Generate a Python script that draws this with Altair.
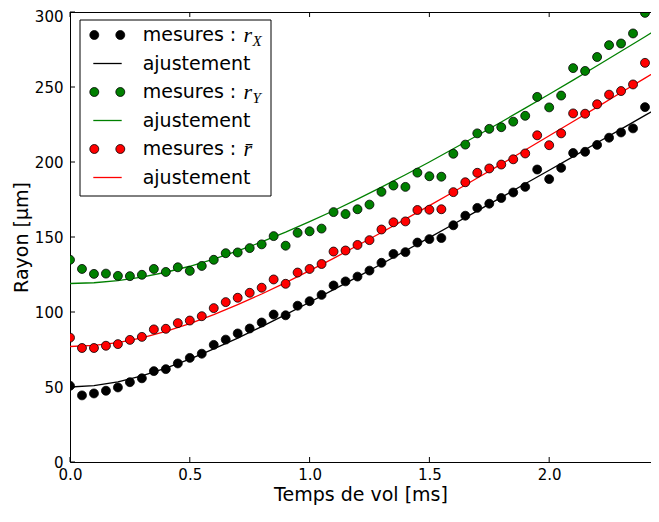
import altair as alt
import pandas as pd

# ---------------- data ----------------
t_ms = [0.00, 0.05, 0.10, 0.15, 0.20, 0.25, 0.30, 0.35, 0.40, 0.45,
        0.50, 0.55, 0.60, 0.65, 0.70, 0.75, 0.80, 0.85, 0.90, 0.95,
        1.00, 1.05, 1.10, 1.15, 1.20, 1.25, 1.30, 1.35, 1.40, 1.45,
        1.50, 1.55, 1.60, 1.65, 1.70, 1.75, 1.80, 1.85, 1.90, 1.95,
        2.00, 2.05, 2.10, 2.15, 2.20, 2.25, 2.30, 2.35, 2.40]

r_x = [50.8, 44.4, 45.7, 47.5, 49.7, 53.2, 55.8, 60.6, 61.9, 65.7,
       69.4, 72.2, 78.1, 81.6, 85.7, 89.0, 93.0, 98.3, 97.8, 104.2,
       107.2, 111.4, 117.7, 120.4, 123.6, 127.6, 132.8, 138.7, 139.9, 146.3,
       148.6, 149.3, 157.8, 164.2, 169.4, 172.2, 176.0, 179.7, 183.4, 195.0,
       188.6, 196.1, 206.0, 206.8, 211.4, 216.2, 219.7, 222.4, 236.6]

r_y = [134.8, 128.7, 125.4, 125.6, 124.1, 123.9, 124.8, 128.7, 126.7, 129.8,
       127.4, 130.7, 134.8, 139.2, 139.7, 142.6, 145.1, 150.6, 144.2, 152.8,
       153.8, 155.6, 166.6, 165.3, 168.5, 171.6, 180.1, 184.3, 183.4, 192.9,
       190.5, 190.2, 205.5, 211.6, 219.1, 222.1, 223.2, 226.9, 230.8, 243.4,
       236.4, 244.3, 262.6, 260.7, 270.0, 277.9, 279.0, 285.7, 299.4]

r_mean = [82.9, 76.0, 76.0, 77.5, 78.6, 81.4, 83.4, 88.4, 88.8, 92.6,
          94.3, 97.2, 102.6, 106.6, 109.5, 112.8, 116.2, 121.7, 118.8, 126.3,
          128.7, 132.0, 140.3, 141.0, 144.7, 147.9, 155.0, 159.8, 160.4, 168.0,
          168.2, 168.5, 179.9, 186.5, 192.8, 195.7, 198.3, 201.8, 205.7, 217.8,
          211.2, 219.1, 232.4, 232.2, 238.5, 244.9, 247.3, 251.7, 266.1]

# fitted curves
t_fit = [0.0, 0.1, 0.2, 0.3, 0.4, 0.5, 0.6, 0.7, 0.8, 0.9, 1.0, 1.1, 1.2,
         1.3, 1.4, 1.5, 1.6, 1.7, 1.8, 1.9, 2.0, 2.1, 2.2, 2.3, 2.4, 2.5]
fit_x = [50.0, 50.9, 53.4, 57.4, 62.6, 68.6, 75.4, 82.6, 90.3, 98.3, 106.5,
         114.9, 123.4, 132.0, 140.8, 149.6, 158.5, 167.4, 176.4, 185.5, 194.5,
         203.6, 212.8, 221.9, 231.1, 240.3]
fit_y = [119.0, 119.5, 120.9, 123.3, 126.5, 130.5, 135.3, 140.7, 146.7, 153.2,
         160.2, 167.5, 175.2, 183.3, 191.5, 200.0, 208.8, 217.7, 226.7, 235.9,
         245.2, 254.6, 264.2, 273.8, 283.5, 293.2]
fit_mean = [77.0, 77.7, 79.6, 82.8, 87.1, 92.3, 98.2, 104.9, 112.0, 119.6,
            127.6, 135.8, 144.3, 153.0, 161.9, 170.9, 180.0, 189.3, 198.6,
            208.0, 217.5, 227.0, 236.6, 246.3, 255.9, 265.7]

x_ticks = [0.0, 0.5, 1.0, 1.5, 2.0]
y_ticks = [0, 50, 100, 150, 200, 250, 300]

series_names = ["rX", "rY", "rbar"]
series_colors = ["#000000", "#008000", "#ff0000"]

# ---------------- tables ----------------
pts = pd.DataFrame({
    "t": t_ms * 3,
    "r": r_x + r_y + r_mean,
    "s": [series_names[0]] * len(t_ms) + [series_names[1]] * len(t_ms) + [series_names[2]] * len(t_ms),
})
fits = pd.DataFrame({
    "t": t_fit * 3,
    "r": fit_x + fit_y + fit_mean,
    "s": [series_names[0]] * len(t_fit) + [series_names[1]] * len(t_fit) + [series_names[2]] * len(t_fit),
})
xt = pd.DataFrame({"v": x_ticks})
yt = pd.DataFrame({"v": y_ticks})

W, H = 581, 450
FONT = "DejaVu Sans"

xscale = alt.Scale(domain=[0, 2.425], nice=False, zero=False)
yscale = alt.Scale(domain=[0, 300], nice=False)
cscale = alt.Scale(domain=series_names, range=series_colors)

x_enc = alt.X("t:Q", scale=xscale,
              axis=alt.Axis(title="Temps de vol [ms]", values=x_ticks, format=".1f",
                            ticks=False, grid=False, labelPadding=5, titlePadding=3,
                            labelFontSize=15, titleFontSize=19, labelFont=FONT,
                            titleFont=FONT, titleFontWeight="normal",
                            domainColor="#000000", domainWidth=1,
                            labelColor="#000000", titleColor="#000000",
                            labelFlush=False))
y_enc = alt.Y("r:Q", scale=yscale,
              axis=alt.Axis(title="Rayon [µm]", values=y_ticks, format="d",
                            ticks=False, grid=False, labelPadding=7, titlePadding=3,
                            labelFontSize=15, titleFontSize=19, labelFont=FONT,
                            titleFont=FONT, titleFontWeight="normal",
                            domainColor="#000000", domainWidth=1,
                            labelColor="#000000", titleColor="#000000",
                            labelOffset={"condition": {"test": "datum.value === 300", "value": 4},
                                         "value": 0},
                            labelFlush=False))

lines = alt.Chart(fits).mark_line(strokeWidth=1.3, clip=True).encode(
    x=x_enc, y=y_enc,
    color=alt.Color("s:N", scale=cscale, legend=None),
    detail="s:N",
)

dots = alt.Chart(pts).mark_point(filled=True, shape="circle", size=80, opacity=1,
                                 stroke="#000000", strokeWidth=0.8, clip=True).encode(
    x=alt.X("t:Q", scale=xscale),
    y=alt.Y("r:Q", scale=yscale),
    fill=alt.Fill("s:N", scale=cscale, legend=None),
)

# inward ticks
xtick_bottom = alt.Chart(xt).mark_rule(color="#000000", strokeWidth=1).encode(
    x=alt.X("v:Q", scale=xscale), y=alt.value(H), y2=alt.value(H - 5))
xtick_top = alt.Chart(xt).mark_rule(color="#000000", strokeWidth=1).encode(
    x=alt.X("v:Q", scale=xscale), y=alt.value(0), y2=alt.value(5))
ytick_left = alt.Chart(yt).mark_rule(color="#000000", strokeWidth=1).encode(
    y=alt.Y("v:Q", scale=yscale), x=alt.value(0), x2=alt.value(5))
top_spine = alt.Chart(xt).mark_rule(color="#000000", strokeWidth=1).encode(
    x=alt.value(0), x2=alt.value(W), y=alt.value(0.5))

# ---------------- manual legend ----------------
one = pd.DataFrame({"k": [0]})
legend_layers = [
    alt.Chart(one).mark_rect(fill="#ffffff", stroke="#000000", strokeWidth=1).encode(
        x=alt.value(10), x2=alt.value(201), y=alt.value(8), y2=alt.value(184))
]
row_y = [23, 51.5, 80, 108.5, 137, 165.5]
subs = ["X", "Y", None]
for i, col in enumerate(series_colors):
    yd = row_y[2 * i]
    yl = row_y[2 * i + 1]
    for xd in (24.3, 50.3):
        legend_layers.append(
            alt.Chart(one).mark_point(filled=True, shape="circle", size=80, opacity=1,
                                      fill=col, stroke="#000000", strokeWidth=0.8).encode(
                x=alt.value(xd), y=alt.value(yd)))
    legend_layers.append(
        alt.Chart(one).mark_rule(color=col, strokeWidth=1.3).encode(
            x=alt.value(23.3), x2=alt.value(51.7), y=alt.value(yl)))
    legend_layers.append(
        alt.Chart(one).mark_text(align="left", baseline="middle", font=FONT, fontSize=19,
                                 color="#000000").encode(
            x=alt.value(72.7), y=alt.value(yd), text=alt.value("mesures :")))
    legend_layers.append(
        alt.Chart(one).mark_text(align="left", baseline="middle", font=FONT, fontSize=19,
                                 color="#000000").encode(
            x=alt.value(72.7), y=alt.value(yl), text=alt.value("ajustement")))
    sym = "r" if subs[i] else "r\u0304"
    legend_layers.append(
        alt.Chart(one).mark_text(align="left", baseline="alphabetic", font="Liberation Serif",
                                 fontStyle="italic", fontSize=22, color="#000000").encode(
            x=alt.value(173.5), y=alt.value(yd + 7), text=alt.value(sym)))
    if subs[i]:
        legend_layers.append(
            alt.Chart(one).mark_text(align="left", baseline="alphabetic", font="Liberation Serif",
                                     fontStyle="italic", fontSize=15, color="#000000").encode(
                x=alt.value(182.5), y=alt.value(yd + 11), text=alt.value(subs[i])))

chart = alt.layer(
    lines, dots, xtick_bottom, xtick_top, ytick_left, top_spine, *legend_layers
).properties(
    width=W, height=H,
    autosize=alt.AutoSizeParams(type="none"),
    padding={"left": 62, "top": 4, "right": 0, "bottom": 47},
).configure_view(stroke=None).configure(background="#ffffff")

chart.save("out.html", embed_options={"renderer": "svg", "actions": False})
